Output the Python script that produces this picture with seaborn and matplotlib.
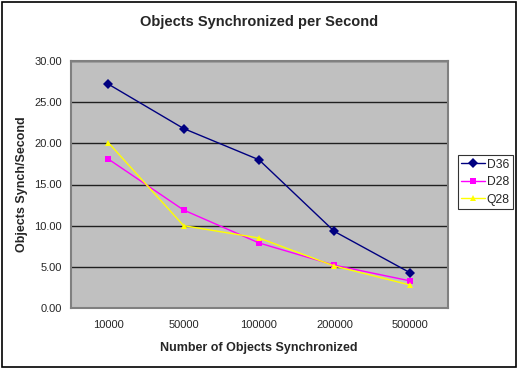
import pandas as pd
import matplotlib.pyplot as plt
import seaborn as sns
from matplotlib.patches import Rectangle

objects = ['10000', '50000', '100000', '200000', '500000']
d36 = [27.2, 21.8, 18.0, 9.3, 4.3]
d28 = [18.1, 11.9, 7.9, 5.2, 3.3]
q28 = [20.1, 10.0, 8.5, 5.1, 2.8]

df = pd.DataFrame({'Objects': objects, 'D36': d36, 'D28': d28, 'Q28': q28})
df = df.melt(id_vars='Objects', var_name='Series', value_name='Rate')

sns.set_style('white')
plt.rcParams['font.family'] = ['Liberation Sans', 'DejaVu Sans']

fig = plt.figure(figsize=(5.19, 3.68), dpi=100)
ax = fig.add_axes([70.5 / 519, 1 - 308 / 368, (447.5 - 70.5) / 519, (308 - 61) / 368])
ax.set_facecolor('#C0C0C0')

sns.lineplot(data=df, x='Objects', y='Rate', hue='Series', style='Series',
             palette={'D36': '#000080', 'D28': '#FF00FF', 'Q28': '#FFFF00'},
             markers={'D36': 'D', 'D28': 's', 'Q28': '^'}, dashes=False,
             markersize=5, markeredgewidth=0, linewidth=1, sort=False, ax=ax)

ax.set_ylim(0, 30)
ax.set_yticks(range(0, 31, 5))
ax.set_yticklabels([f'{v:.2f}' for v in range(0, 31, 5)])
ax.set_xlim(-0.5, 4.5)
ax.set_xticks(range(5))
ax.set_xticks([i - 0.5 for i in range(6)], minor=True)
ax.tick_params(axis='x', which='major', length=0, labelsize=8, pad=9)
ax.tick_params(axis='x', which='minor', length=4, width=1, color='#404040', direction='out')
ax.tick_params(axis='y', length=4, width=1, color='#404040', direction='out', labelsize=8, pad=2)
ax.yaxis.grid(True, color='#202020', linewidth=1)
ax.set_axisbelow(True)

for side in ['top', 'right', 'left', 'bottom']:
    ax.spines[side].set_color('#808080')
    ax.spines[side].set_linewidth(1.5)

ax.set_xlabel('Number of Objects Synchronized', fontsize=9, fontweight='bold', labelpad=8)
ax.set_ylabel('Objects Synch/Second', fontsize=9, fontweight='bold', labelpad=5)
fig.text(0.5, 1 - 22 / 368, 'Objects Synchronized per Second', ha='center', va='center',
         fontsize=10.5, fontweight='bold')

leg = ax.legend(loc='upper left', bbox_to_anchor=(457.7 / 519, 1 - 155 / 368),
                bbox_transform=fig.transFigure, frameon=True, fancybox=False,
                edgecolor='black', fontsize=8.7, handlelength=2.0, handletextpad=0.1,
                borderpad=0.3, labelspacing=0.45, borderaxespad=0)
leg.get_frame().set_linewidth(0.8)

fig.patches.append(Rectangle((1.5 / 519, 1.5 / 368), 514 / 519, 365 / 368,
                             transform=fig.transFigure, fill=False,
                             edgecolor='black', linewidth=1.2))

fig.savefig('out.png', dpi=100)
